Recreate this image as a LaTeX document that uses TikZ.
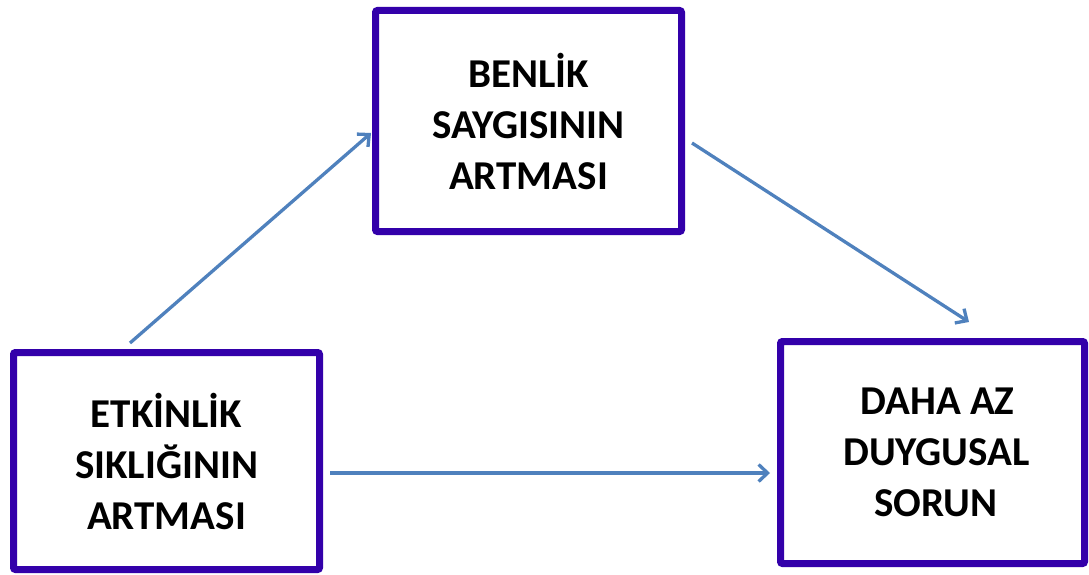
\documentclass[tikz,border=0pt]{standalone}
\usepackage{fontspec}
\setmainfont{Carlito}
\usetikzlibrary{arrows.meta,calc}
\definecolor{boxborder}{RGB}{51,0,170}
\definecolor{arrowblue}{RGB}{79,129,189}
\begin{document}
\begin{tikzpicture}[x=1pt,y=-1pt,
  box/.style={draw=boxborder,line width=7pt,rounded corners=2pt,fill=white,
    outer sep=0pt,inner sep=0pt,align=center,
    font=\fontsize{41pt}{51pt}\selectfont\bfseries},
  conn/.style={draw=arrowblue,line width=3.3pt,
    -{Straight Barb[length=9pt,width=17pt]}}]
\useasboundingbox (0,0) rectangle (1089,575);
\node[box,minimum width=306pt,minimum height=217pt] (l) at (166.5,461) {\raisebox{-8pt}{}ETKİNLİK\\SIKLIĞININ\\ARTMASI};
\node[box,minimum width=306pt,minimum height=221pt] (t) at (528.5,121) {BENLİK\\SAYGISININ\\ARTMASI};
\node[box,minimum width=304pt,minimum height=222pt] (r) at (932.5,452.5) {\hspace*{10pt}DAHA AZ\\\hspace*{8pt}DUYGUSAL\\\hspace*{6pt}SORUN};
\draw[conn] ($(l.north west)+(116.5,-9.5)$) -- ($(t.west)+(-4.5,12)$);
\draw[conn] ($(t.east)+(10.5,22)$) -- ($(r.north)+(36.5,-19.5)$);
\draw[conn] ($(l.east)+(10.5,12)$) -- ($(r.west)+(-10.5,20.5)$);
\end{tikzpicture}
\end{document}
